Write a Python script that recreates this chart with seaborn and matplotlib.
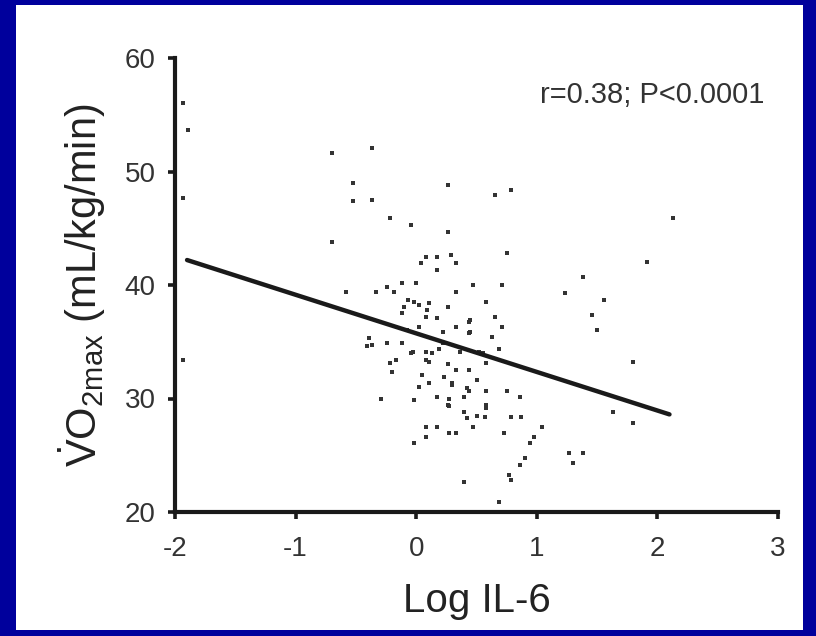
import numpy as np
import pandas as pd
import matplotlib
matplotlib.use("Agg")
import matplotlib.pyplot as plt
from matplotlib.patches import Rectangle
import seaborn as sns

# Log IL-6 vs peak oxygen uptake
log_il6 = [
    -1.93, -1.89, -1.93, -1.93,
    -0.70, -0.70, -0.37, -0.52, -0.52, -0.37,
    0.26, -0.22, -0.04, 0.26,
    0.08, 0.04, 0.17, 0.29, 0.33, 0.17,
    -0.12, 0.00, 0.47, -0.58, -0.33, -0.24, -0.18, 0.33,
    0.65, 0.79, 0.75, 1.91, 1.38, 1.23, 0.71, 1.56,
    2.13, 1.80, 1.80,
    0.58, 0.65, 1.46, 0.71, 1.50, 0.63, 0.69, 0.55,
    0.58, 0.75, 0.86, 0.58, 1.63, 0.57, 0.79, 0.87, 1.04, 0.73, 0.98, 0.94,
    1.27, 1.38, 1.30, 0.90, 0.86, 0.77, 0.79, 0.69,
    -0.29, -0.22, -0.17, -0.20, -0.39, -0.24, -0.37, -0.12, -0.02, 0.11, 0.26,
    -0.08, 0.02, 0.17, 0.22, 0.33, 0.44,
    -0.03, 0.08, 0.19, 0.36, 0.52,
    0.11, 0.26, 0.33, 0.44, 0.58,
    0.05, 0.02, 0.11, 0.23, 0.30, 0.42, 0.50,
    -0.02, 0.17, 0.27, 0.40,
    0.26, 0.58, 0.40, 0.42, 0.50,
    0.08, 0.17, 0.27, 0.33, 0.47, 0.08, -0.02, 0.40,
    0.44, 0.08, 0.22, 0.08, 0.30, 0.44, 0.27,
    -0.10, -0.07, 0.02, 0.09, 0.45, 0.45, -0.41, -0.12, -0.04, 0.13,
]
vo2max = [
    56.0, 53.7, 47.7, 33.4,
    51.6, 43.8, 52.1, 49.0, 47.4, 47.5,
    48.8, 45.9, 45.3, 44.7,
    42.5, 41.9, 42.5, 42.6, 41.9, 41.3,
    40.2, 40.2, 40.0, 39.4, 39.4, 39.8, 39.4, 39.4,
    47.9, 48.4, 42.8, 42.0, 40.7, 39.3, 40.0, 38.7,
    45.9, 33.2, 27.8,
    38.5, 37.2, 37.4, 36.3, 36.0, 35.4, 34.4, 34.0,
    30.7, 30.7, 30.1, 29.2, 28.8, 28.4, 28.4, 28.4, 27.5, 27.0, 26.6, 26.1,
    25.2, 25.2, 24.3, 24.8, 24.1, 23.3, 22.8, 20.9,
    30.0, 33.1, 33.4, 32.3, 35.3, 34.9, 34.7, 37.5, 38.5, 38.4, 38.1,
    36.0, 36.3, 37.1, 35.9, 36.3, 35.8,
    34.1, 34.1, 34.4, 34.1, 34.1,
    33.2, 33.0, 32.5, 32.5, 33.1,
    32.1, 31.0, 31.4, 31.9, 31.2, 30.9, 31.6,
    29.9, 30.1, 30.0, 30.1,
    29.4, 29.4, 28.8, 28.3, 28.5,
    27.5, 27.5, 27.0, 27.0, 27.5, 26.6, 26.1, 22.6,
    36.7, 37.2, 34.9, 33.4, 31.4, 30.7, 29.3,
    38.1, 38.7, 38.2, 37.8, 36.9, 35.9, 34.6, 34.9, 34.0, 34.0,
]

# fitted regression line
fit_x = [-1.9, 2.1]
fit_y = [42.2, 28.6]

x_ticks = [-2, -1, 0, 1, 2, 3]
y_ticks = [20, 30, 40, 50, 60]
stats_text = "r=0.38; P<0.0001"

points = pd.DataFrame({"log_il6": log_il6, "vo2max": vo2max})
fit = pd.DataFrame({"x": fit_x, "y": fit_y})

sns.set_theme(style="ticks")
family = "Liberation Sans"
plt.rcParams["font.family"] = [family, "DejaVu Sans"]
plt.rcParams["mathtext.fontset"] = "custom"
plt.rcParams["mathtext.rm"] = family
plt.rcParams["mathtext.it"] = family + ":italic"
plt.rcParams["mathtext.bf"] = family + ":bold"

fig = plt.figure(figsize=(8.16, 6.36), dpi=100)
fig.patch.set_facecolor("#00009C")
# white panel inside the blue frame
fig.patches.append(Rectangle((16 / 816, 6 / 636), (803 - 16) / 816, (631 - 6) / 636,
                             transform=fig.transFigure, facecolor="white",
                             edgecolor="none", zorder=-10))

ax = fig.add_axes([175 / 816, 1 - 512 / 636, (778 - 175) / 816, (512 - 58) / 636])
ax.set_facecolor("none")
ax.set_zorder(5)

sns.scatterplot(data=points, x="log_il6", y="vo2max", ax=ax, marker="s",
                s=8, color="#333333", linewidth=0, clip_on=False, zorder=3)
sns.lineplot(data=fit, x="x", y="y", ax=ax, color="#1a1a1a", linewidth=3.2,
             zorder=4)

ax.set_xlim(-2, 3)
ax.set_ylim(20, 60)
ax.set_xticks(x_ticks)
ax.set_yticks(y_ticks)
ax.set_xticklabels([str(t) for t in x_ticks])
ax.set_yticklabels([str(t) for t in y_ticks])

for side in ("top", "right"):
    ax.spines[side].set_visible(False)
for side in ("left", "bottom"):
    ax.spines[side].set_linewidth(3)
    ax.spines[side].set_color("#1a1a1a")
ax.tick_params(axis="both", direction="out", length=5, width=2.6,
               color="#1a1a1a", labelsize=20, labelcolor="#333333")
ax.tick_params(axis="x", pad=12)
ax.tick_params(axis="y", pad=9)

ax.set_xlabel("Log IL-6", fontsize=29, color="#222222", labelpad=15)
ax.set_ylabel(r"$\dot{\mathrm{V}}\mathrm{O}_{2\mathrm{max}}$ (mL/kg/min)",
              fontsize=30, color="#222222", labelpad=12)

ax.text(2.89, 56.7, stats_text, ha="right", va="center", fontsize=21,
        color="#333333")

fig.savefig("out.png", dpi=100, facecolor=fig.get_facecolor())
